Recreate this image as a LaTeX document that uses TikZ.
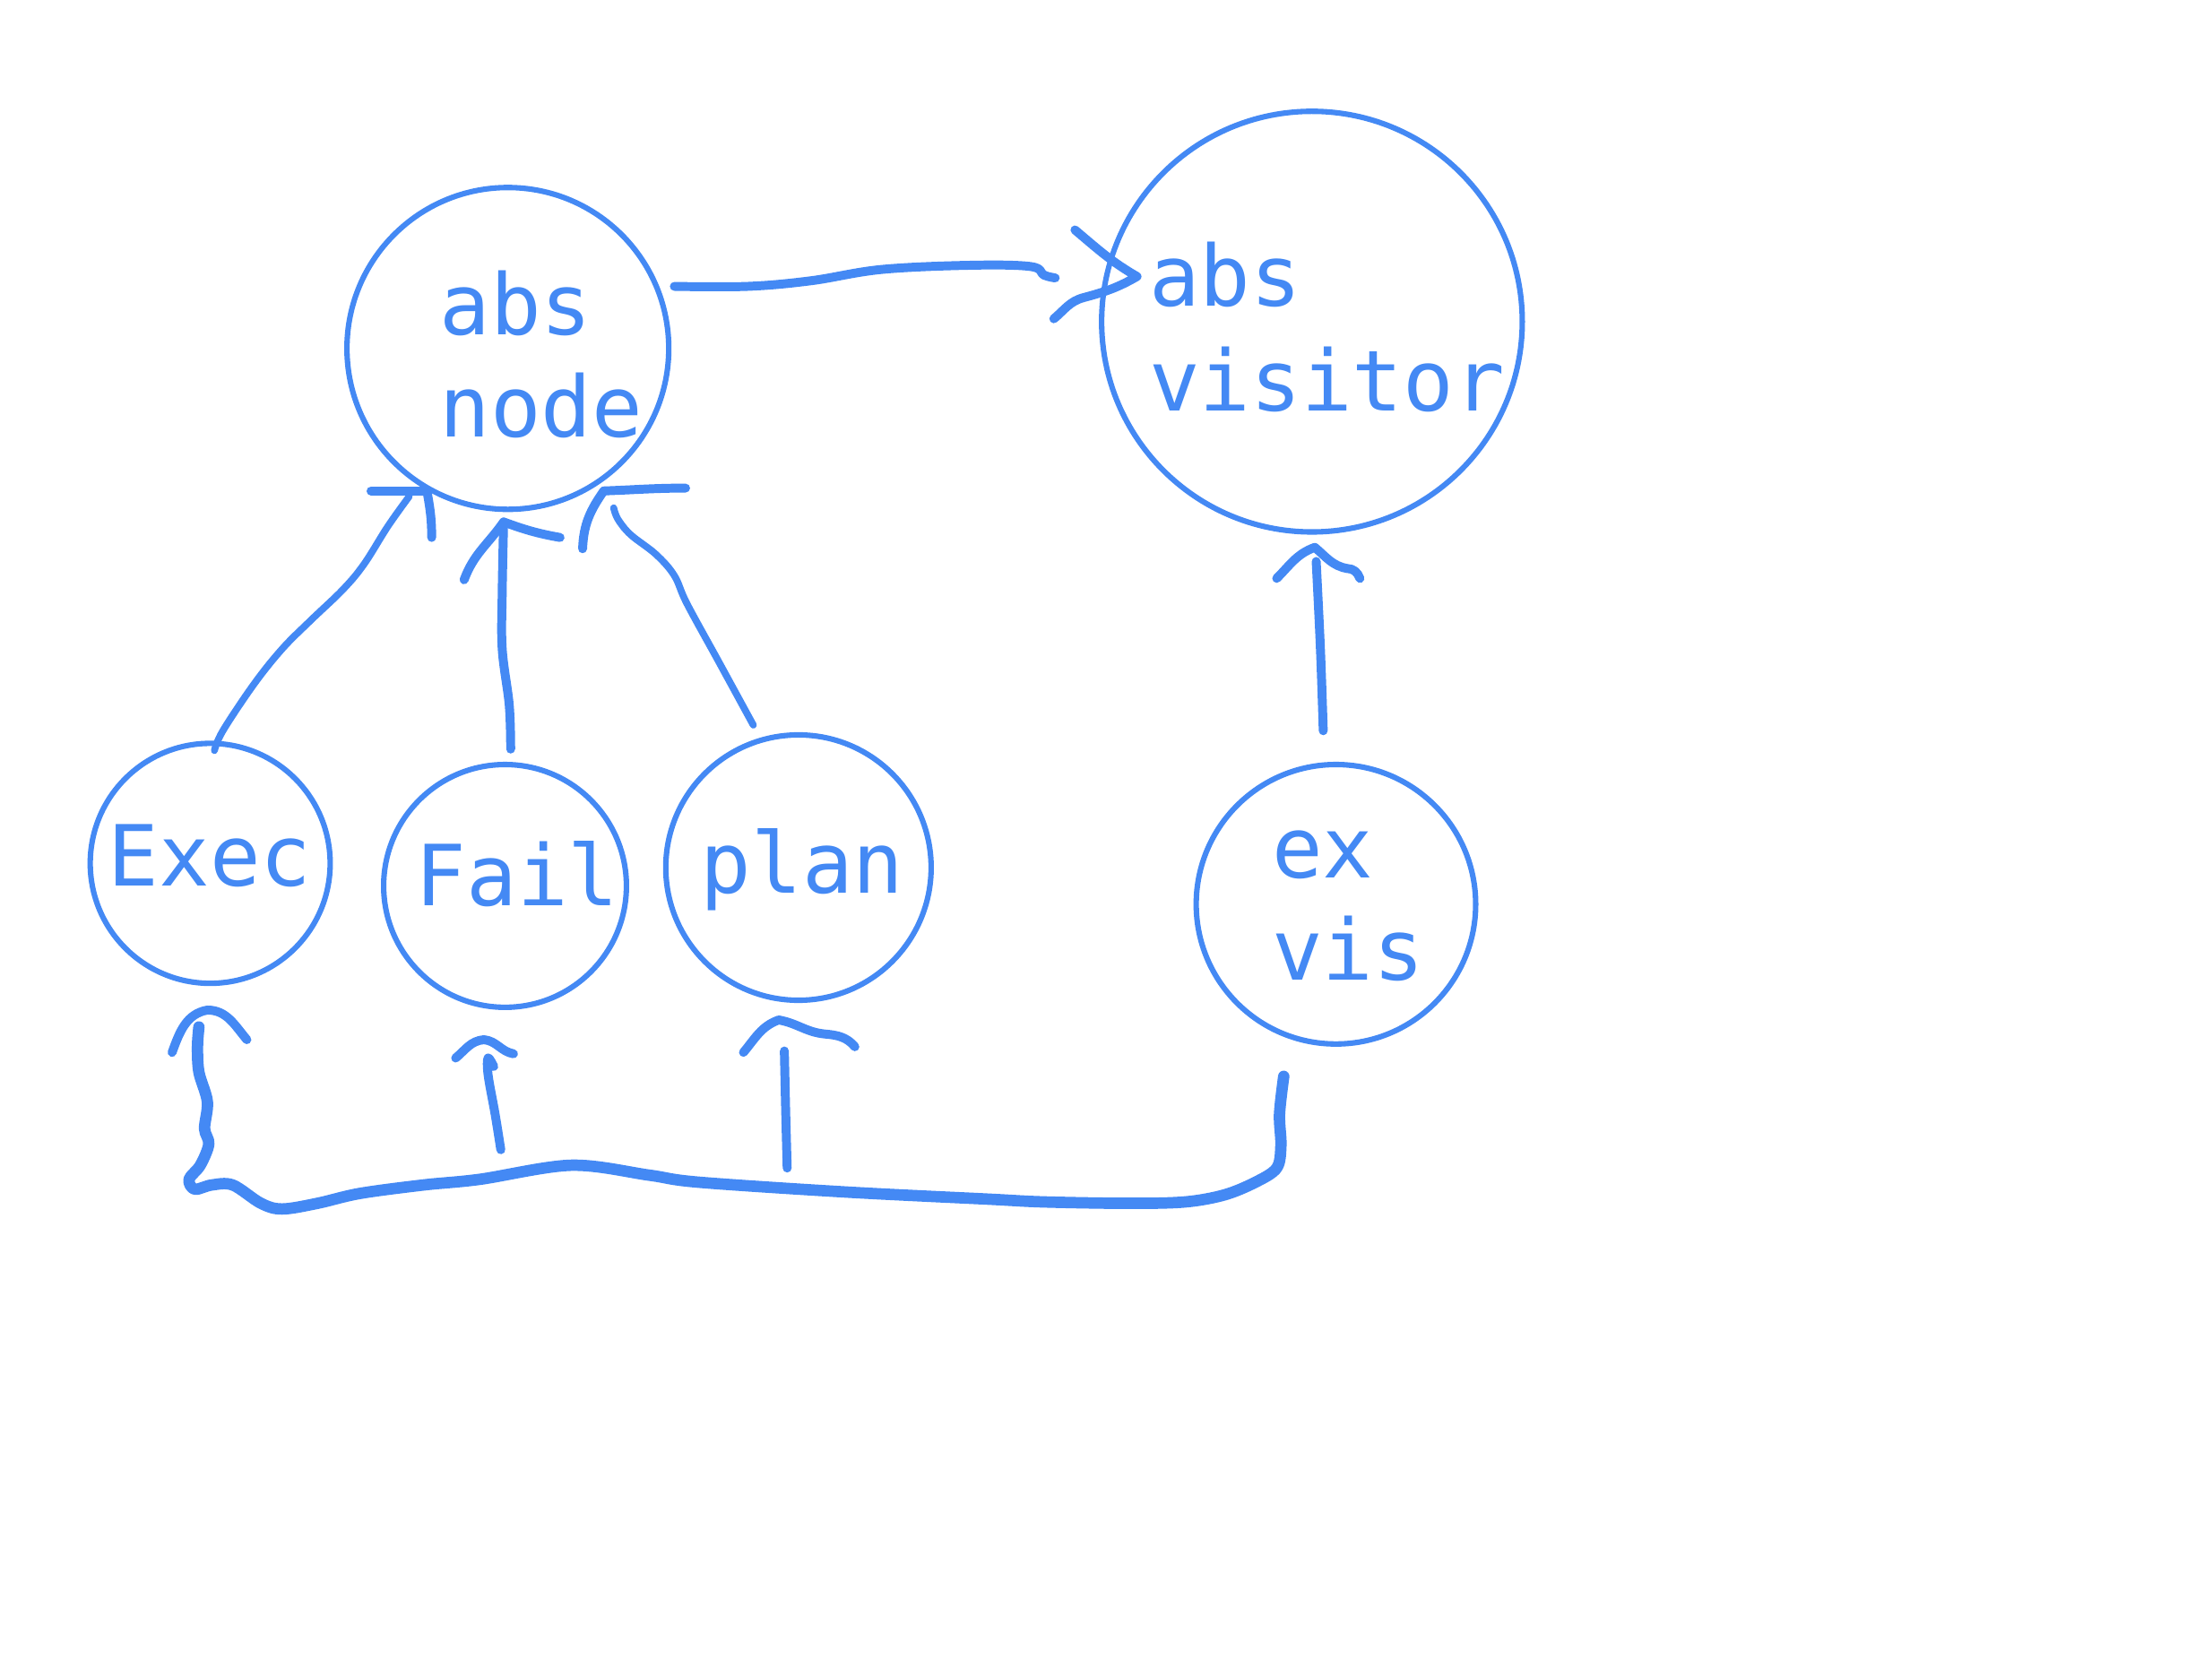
\documentclass[tikz,border=0pt]{standalone}
\usepackage{fontspec}
\setmonofont{DejaVu Sans Mono}
\usetikzlibrary{arrows.meta}
\definecolor{ink}{HTML}{4489F4}
\begin{document}
\begin{tikzpicture}[x=0.01cm,y=-0.01cm,
  bubble/.style={circle,draw=ink,line width=1.1pt,inner sep=0pt},
  lbl/.style={text=ink,font=\ttfamily\fontsize{17}{20.7}\selectfont,inner sep=0pt,anchor=base west},
  stroke/.style={draw=ink,line width=1.8pt,line cap=round,line join=round},
  thin stroke/.style={stroke,line width=1.4pt},
  bus/.style={stroke,line width=2.3pt}]
\useasboundingbox (0,0) rectangle (1568,1176);

% circles
\node[bubble,minimum size=2.28cm] (absnode) at (360,247) {};
\node[bubble,minimum size=2.98cm] (absvis) at (930,228) {};
\node[bubble,minimum size=1.70cm] (exec) at (149,612) {};
\node[bubble,minimum size=1.72cm] (fail) at (358,628) {};
\node[bubble,minimum size=1.88cm] (plan) at (566,615) {};
\node[bubble,minimum size=1.98cm] (exvis) at (947,641) {};

% labels
\node[lbl] (t1) at (311,237) {abs};
\node[lbl] (t2) at (311,310) {node};
\node[lbl] (t3) at (814,217) {abs};
\node[lbl] (t4) at (814,291) {visitor};
\node[lbl] (t5) at (76,628) {Exec};
\node[lbl] (t6) at (294,642) {Fail};
\node[lbl] (t7) at (496,633) {plan};
\node[lbl] (t8) at (901,622) {ex};
\node[lbl] (t9) at (901,695) {vis};

% abs node -> abs visitor
\coordinate (a1s) at (478,203);
\coordinate (a1t) at (806,196);
\draw[stroke] plot[smooth,tension=0.6] coordinates {(a1s) (530,203) (575,199) (625,191) (690,188) (731,189) (740,195) (748,197)};
\draw[stroke] (762,163) to[out=-40,in=150] (a1t) to[out=210,in=15] (768,211) to[out=195,in=40] (747,226);

% Exec -> abs node
\coordinate (a2s) at (152,532);
\coordinate (a2t) at (300,348);
\draw[thin stroke] plot[smooth,tension=0.6] coordinates {(a2s) (158,518) (180,485) (200,460) (220,440) (243,418) (258,400) (275,373) (290,352)};
\draw[stroke] (263,348) -- (a2t);
\draw[stroke] (303,350) to[out=-80,in=90] (306,381);

% Fail -> abs node
\coordinate (a3s) at (362,531);
\coordinate (a3t) at (357,370);
\draw[stroke] plot[smooth,tension=0.6] coordinates {(a3s) (361,500) (356,460) (356,420) (a3t)};
\draw[stroke] (329,411) to[out=70,in=235] (a3t) to[out=-20,in=170] (397,381);

% plan -> abs node
\coordinate (a4s) at (534,514);
\coordinate (a4t) at (428,348);
\draw[thin stroke] plot[smooth,tension=0.6] coordinates {(a4s) (510,470) (487,428) (478,408) (465,393) (447,379) (438,368) (435,360)};
\draw[stroke] (413,389) to[out=88,in=235] (a4t) to[out=2,in=180] (486,346);

% ex vis -> abs visitor
\coordinate (a5s) at (938,518);
\coordinate (a5t) at (932,388);
\draw[stroke] plot[smooth,tension=0.6] coordinates {(a5s) (936,460) (933,398)};
\draw[stroke] (905,410) to[out=45,in=200] (a5t) to[out=-40,in=170] (955,403) to[out=0,in=110] (964,410);

% ex vis -> Exec (bus)
\coordinate (bs) at (910,763);
\coordinate (b1t) at (147,716);
\draw[bus] plot[smooth,tension=0.55] coordinates {(bs) (907,790) (908,812) (905,828) (890,838) (868,847) (840,852) (800,853) (740,852) (700,850) (600,845) (495,838) (460,833) (405,826) (340,836) (300,840) (255,846) (225,853) (200,857) (185,853) (165,840) (150,840) (138,843) (134,836) (142,826) (148,811) (145,800) (147,781) (141,760) (140,742) (141,728)};
\draw[stroke] (122,746) to[out=70,in=190] (b1t) to[out=0,in=130] (175,737);

% bus -> Fail
\coordinate (b2s) at (355,815);
\coordinate (b2t) at (343,737);
\draw[stroke] plot[smooth,tension=0.6] coordinates {(b2s) (351,790) (346,762) (346,750) (350,756)};
\draw[stroke] (323,750) to[out=40,in=185] (b2t) to[out=-5,in=170] (364,747);

% bus -> plan
\coordinate (b3s) at (558,828);
\coordinate (b3t) at (552,723);
\draw[stroke] plot[smooth,tension=0.6] coordinates {(b3s) (557,790) (556,745)};
\draw[stroke] (527,746) to[out=50,in=200] (b3t) to[out=-10,in=175] (585,733) to[out=-5,in=130] (606,742);
\end{tikzpicture}
\end{document}
